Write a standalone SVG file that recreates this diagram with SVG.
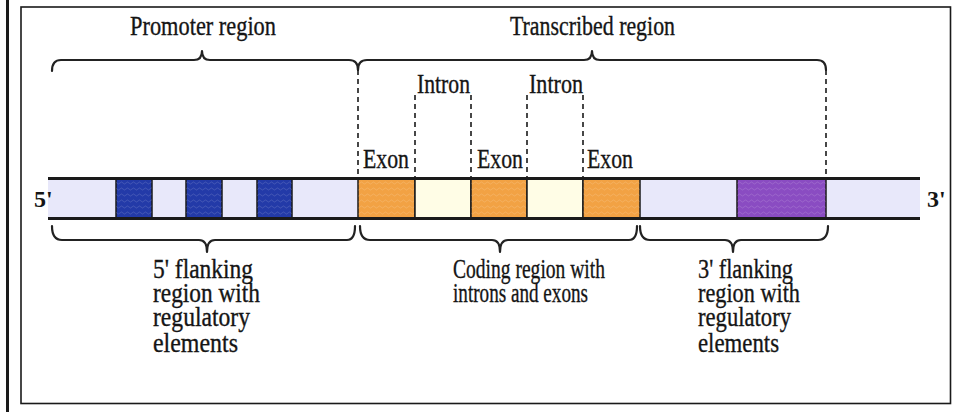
<svg xmlns="http://www.w3.org/2000/svg" width="953" height="412" viewBox="0 0 953 412">
  <style>
    .lbl { font-family: "Liberation Serif", "Times New Roman", serif; font-size: 27px; fill: #151515; stroke: #151515; stroke-width: 0.35; }
    .end { font-family: "Liberation Serif", "Times New Roman", serif; font-size: 24px; font-weight: bold; fill: #151515; }
    .brace { fill: none; stroke: #222; stroke-width: 2.2; stroke-linejoin: round; stroke-linecap: round; }
    .dash { fill: none; stroke: #1a1a1a; stroke-width: 1.6; stroke-dasharray: 5 4; }
    .seg { stroke: #1a1a1a; stroke-width: 1.5; }
    .strand { stroke: #1a1a1a; stroke-width: 3; }
  </style>
  <defs>
    <pattern id="grain" width="6" height="6" patternUnits="userSpaceOnUse">
      <path d="M0 3 Q1.5 1 3 3 T6 3" fill="none" stroke="#ffffff" stroke-opacity="0.18" stroke-width="0.8"/>
    </pattern>
  </defs>

  <!-- frame -->
  <rect width="953" height="412" fill="#ffffff"/>
  <line x1="7.5" y1="0" x2="7.5" y2="412" stroke="#1a1a1a" stroke-width="3"/>
  <rect x="21" y="7" width="929.5" height="396.5" fill="#ffffff" stroke="#1a1a1a" stroke-width="1.6"/>

  <!-- DNA strand -->
  <g id="strand">
    <rect x="48" y="179" width="872" height="39" fill="#e8e8fa"/>
    <g id="reg1"><rect class="seg" x="116" y="179" width="36" height="39" fill="#233aa8"/><rect x="116" y="179" width="36" height="39" fill="url(#grain)"/></g>
    <g id="reg2"><rect class="seg" x="186" y="179" width="36" height="39" fill="#233aa8"/><rect x="186" y="179" width="36" height="39" fill="url(#grain)"/></g>
    <g id="reg3"><rect class="seg" x="257" y="179" width="35" height="39" fill="#233aa8"/><rect x="257" y="179" width="35" height="39" fill="url(#grain)"/></g>
    <g id="exon1"><rect class="seg" x="358" y="179" width="57" height="39" fill="#f2a244"/><rect x="358" y="179" width="57" height="39" fill="url(#grain)"/></g>
    <g id="intron1"><rect class="seg" x="415" y="179" width="56" height="39" fill="#fffde6"/></g>
    <g id="exon2"><rect class="seg" x="471" y="179" width="56" height="39" fill="#f2a244"/><rect x="471" y="179" width="56" height="39" fill="url(#grain)"/></g>
    <g id="intron2"><rect class="seg" x="527" y="179" width="56" height="39" fill="#fffde6"/></g>
    <g id="exon3"><rect class="seg" x="583" y="179" width="57" height="39" fill="#f2a244"/><rect x="583" y="179" width="57" height="39" fill="url(#grain)"/></g>
    <g id="reg4"><rect class="seg" x="737" y="179" width="89" height="39" fill="#8a4cc2"/><rect x="737" y="179" width="89" height="39" fill="url(#grain)"/></g>
    <line class="strand" x1="48" y1="178.5" x2="920" y2="178.5"/>
    <line class="strand" x1="48" y1="218.5" x2="920" y2="218.5"/>
    <text class="end" x="34" y="207">5'</text>
    <text class="end" x="927" y="207">3'</text>
  </g>

  <!-- braces and guide lines -->
  <g id="connectors">
    <path class="brace" d="M52 71 Q52 60 61 60 L194 60 Q202 60 202 51 Q202 60 210 60 L349 60 Q358 60 358 70"/>
    <path class="brace" d="M358 70 Q358 60 367 60 L584 60 Q592 60 592 51 Q592 60 600 60 L817 60 Q826 60 826 70"/>
    <path class="brace" d="M52 226 Q52 240 62 240 L199 240 Q207 240 207 252 Q207 240 215 240 L347 240 Q355 240 355 226"/>
    <path class="brace" d="M360 226 Q360 240 370 240 L492 240 Q500 240 500 252 Q500 240 508 240 L629 240 Q637 240 637 226"/>
    <path class="brace" d="M640 226 Q640 240 650 240 L725 240 Q733 240 733 252 Q733 240 741 240 L818 240 Q828 240 828 226"/>
    <line class="dash" x1="358" y1="70" x2="358" y2="178"/>
    <line class="dash" x1="415" y1="95" x2="415" y2="178"/>
    <line class="dash" x1="471" y1="95" x2="471" y2="178"/>
    <line class="dash" x1="527" y1="95" x2="527" y2="178"/>
    <line class="dash" x1="583" y1="95" x2="583" y2="178"/>
    <line class="dash" x1="826" y1="70" x2="826" y2="178"/>
  </g>

  <!-- region labels -->
  <g id="labels">
    <text class="lbl" x="130" y="35" textLength="146" lengthAdjust="spacingAndGlyphs">Promoter region</text>
    <text class="lbl" x="510" y="35" textLength="165" lengthAdjust="spacingAndGlyphs">Transcribed region</text>
    <text class="lbl" x="417" y="93" textLength="53" lengthAdjust="spacingAndGlyphs">Intron</text>
    <text class="lbl" x="529" y="93" textLength="54" lengthAdjust="spacingAndGlyphs">Intron</text>
    <text class="lbl" x="363" y="168" textLength="46" lengthAdjust="spacingAndGlyphs">Exon</text>
    <text class="lbl" x="477" y="168" textLength="46" lengthAdjust="spacingAndGlyphs">Exon</text>
    <text class="lbl" x="587" y="168" textLength="46" lengthAdjust="spacingAndGlyphs">Exon</text>

    <text class="lbl" x="153" y="278" textLength="100" lengthAdjust="spacingAndGlyphs">5' flanking</text>
    <text class="lbl" x="153" y="302" textLength="107" lengthAdjust="spacingAndGlyphs">region with</text>
    <text class="lbl" x="153" y="326" textLength="97" lengthAdjust="spacingAndGlyphs">regulatory</text>
    <text class="lbl" x="153" y="352" textLength="85" lengthAdjust="spacingAndGlyphs">elements</text>

    <text class="lbl" x="453" y="278" textLength="152" lengthAdjust="spacingAndGlyphs">Coding region with</text>
    <text class="lbl" x="453" y="302" textLength="135" lengthAdjust="spacingAndGlyphs">introns and exons</text>

    <text class="lbl" x="698" y="278" textLength="95" lengthAdjust="spacingAndGlyphs">3' flanking</text>
    <text class="lbl" x="698" y="302" textLength="102" lengthAdjust="spacingAndGlyphs">region with</text>
    <text class="lbl" x="698" y="326" textLength="93" lengthAdjust="spacingAndGlyphs">regulatory</text>
    <text class="lbl" x="698" y="352" textLength="81" lengthAdjust="spacingAndGlyphs">elements</text>
  </g>
</svg>
